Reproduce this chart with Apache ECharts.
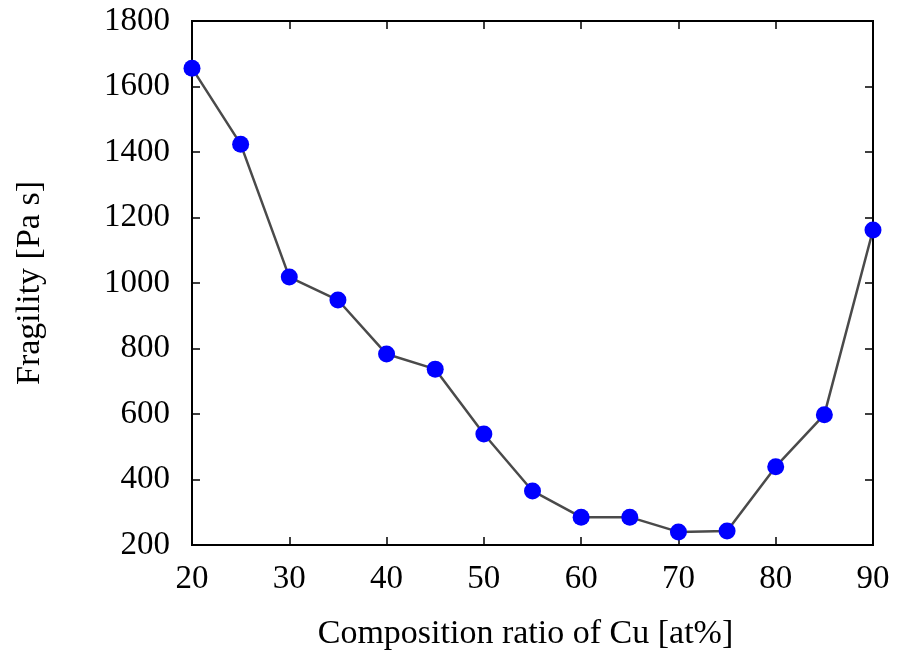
<!DOCTYPE html>
<html><head><meta charset="utf-8">
<script src="https://cdn.jsdelivr.net/npm/echarts@6/dist/echarts.min.js"></script>
<style>html,body{margin:0;padding:0;background:#fff}#c{width:901px;height:660px}</style>
</head><body><div id="c"></div>
<script>
const composition = [20, 25, 30, 35, 40, 45, 50, 55, 60, 65, 70, 75, 80, 85, 90];
const fragility = [1656, 1424, 1018, 948, 783, 737, 539, 365, 285, 285, 240, 243, 439, 598, 1162];
const xTitle = 'Composition ratio of Cu [at%]';
const yTitle = 'Fragility [Pa s]';

const font = '"Liberation Serif", "DejaVu Serif", serif';
const chart = echarts.init(document.getElementById('c'), null, {renderer: 'canvas'});
const tickStyle = {show: true, inside: true, length: 8, lineStyle: {color: '#000', width: 1.5}};
chart.setOption({
  animation: false,
  backgroundColor: '#fff',
  grid: {left: 192, top: 21, right: 28, bottom: 115, show: true, borderColor: '#000', borderWidth: 2, backgroundColor: 'transparent'},
  xAxis: [{
    type: 'value', min: 20, max: 90, interval: 10,
    name: xTitle, nameLocation: 'middle', nameGap: 72,
    nameTextStyle: {fontFamily: font, fontSize: 34, color: '#000', padding: [0, 14, 0, 0]},
    axisLine: {show: true, lineStyle: {color: '#000', width: 2}},
    axisTick: tickStyle,
    axisLabel: {fontFamily: font, fontSize: 33, color: '#000', margin: 18, formatter: v => String(v)},
    splitLine: {show: false}
  }, {
    type: 'value', min: 20, max: 90, interval: 10, position: 'top',
    axisLine: {show: true, lineStyle: {color: '#000', width: 2}},
    axisTick: tickStyle, axisLabel: {show: false}, splitLine: {show: false}
  }],
  yAxis: [{
    type: 'value', min: 200, max: 1800, interval: 200,
    name: yTitle, nameLocation: 'middle', nameGap: 145, nameRotate: 90,
    nameTextStyle: {fontFamily: font, fontSize: 34, color: '#000'},
    axisLine: {show: true, lineStyle: {color: '#000', width: 2}},
    axisTick: tickStyle,
    axisLabel: {fontFamily: font, fontSize: 33, color: '#000', margin: 22, formatter: v => String(v)},
    splitLine: {show: false}
  }, {
    type: 'value', min: 200, max: 1800, interval: 200, position: 'right',
    axisLine: {show: true, lineStyle: {color: '#000', width: 2}},
    axisTick: tickStyle, axisLabel: {show: false}, splitLine: {show: false}
  }],
  series: [{
    type: 'line',
    data: composition.map((c, i) => [c, fragility[i]]),
    symbol: 'circle', symbolSize: 17,
    lineStyle: {color: '#4a4a4a', width: 2.5},
    itemStyle: {color: '#0000ff', borderWidth: 0},
    clip: false
  }]
});
</script></body></html>
